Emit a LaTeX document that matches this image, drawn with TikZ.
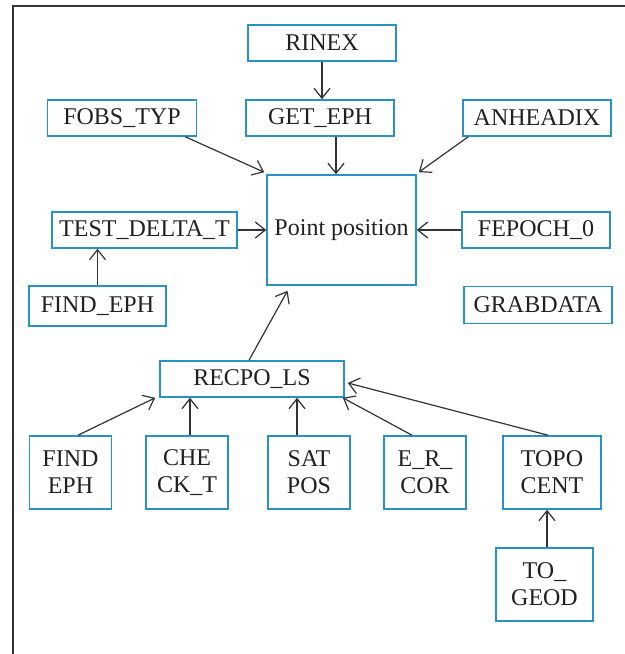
\documentclass[tikz,border=0pt]{standalone}
\usepackage{fontspec}
\setmainfont{Liberation Serif}
\usetikzlibrary{arrows.meta}

\definecolor{boxblue}{RGB}{41,146,196}
\definecolor{linegray}{RGB}{51,51,51}

\begin{document}
\begin{tikzpicture}[
		x=0.5pt,
		y=-0.5pt,
		every node/.style={font=\fontsize{12}{13.5}\selectfont, text={rgb,255:red,35;green,31;blue,32}},
		modbox/.style={draw=boxblue, line width=0.8pt, inner sep=0pt, align=center, minimum height=18pt},
		tallbox/.style={modbox, minimum width=41pt, minimum height=36.5pt},
		arr/.style={draw=linegray, line width=0.6pt, -{Straight Barb[length=5pt,width=8pt]}}
		]
		
		\useasboundingbox (0,0) rectangle (625,654);
		
		% Frame round the figure, open at the right and at the bottom.
		\draw[line width=0.8pt, linegray] (13,654) -- (13,6) -- (625,6);
		
		% Upper modules.
		\node[modbox, minimum width=74pt] (rinex) at (322,43) {RINEX};
		\node[modbox, minimum width=74.5pt] (fobs) at (122,118) {FOBS\_TYP};
		\node[modbox, minimum width=74pt] (geteph) at (320,118) {GET\_EPH};
		\node[modbox, minimum width=74pt] (anheadix) at (537,118) {ANHEADIX};
		
		% Central module.
		\node[modbox, minimum width=74.5pt, minimum height=55pt] (pp) at (341.5,230) {Point position};
		
		% Side modules.
		\node[modbox, minimum width=92.5pt] (test) at (144.5,230) {TEST\_DELTA\_T};
		\node[modbox, minimum width=74pt] (fepoch) at (536,230) {FEPOCH\_0};
		\node[modbox, minimum width=68.5pt, minimum height=20pt] (findeph) at (97.5,306) {FIND\_EPH};
		\node[modbox, minimum width=74pt, minimum height=18.5pt] (grabdata) at (538,305) {GRABDATA};
		
		% Least squares module and its inputs.
		\node[modbox, minimum width=92pt] (recpo) at (252,379) {RECPO\_LS};
		\node[tallbox] (findb) at (70.5,472.5) {FIND\\EPH};
		\node[tallbox] (check) at (187,472.5) {CHE\\CK\_T};
		\node[tallbox] (satpos) at (309,472.5) {SAT\\POS};
		\node[tallbox] (ercor) at (425,472.5) {E\_R\_\\COR};
		\node[tallbox, minimum width=49pt] (topo) at (552,472.5) {TOPO\\CENT};
		\node[tallbox, minimum width=48.5pt] (togeod) at (544.5,584.5) {TO\_\\GEOD};
		
		% Connectors.
		\draw[arr] (rinex.south) -- (rinex.south |- geteph.north);
		\draw[arr] ([xshift=8pt]geteph.south) -- ([xshift=8pt]geteph.south |- pp.north);
		\draw[arr] ([xshift=-6pt]fobs.south east) -- ([shift={(-1pt,1pt)}]pp.north west);
		\draw[arr] ([xshift=3pt]anheadix.south west) -- ([shift={(1pt,1pt)}]pp.north east);
		\draw[arr] (test.east) -- (pp.west);
		\draw[arr] (fepoch.west) -- (pp.east);
		\draw[arr] (findeph.north) -- (findeph.north |- test.south);
		\draw[arr] ([xshift=-1.5pt]recpo.north) -- ([shift={(-27pt,-2.5pt)}]pp.south);
		
		\draw[arr] ([xshift=3.75pt]findb.north) -- ([xshift=-2pt]recpo.south west);
		\draw[arr] ([xshift=1.5pt]check.north) -- ([xshift=1.5pt]check.north |- recpo.south);
		\draw[arr] ([xshift=-6pt]satpos.north) -- ([xshift=-6pt]satpos.north |- recpo.south);
		\draw[arr] ([xshift=-6.5pt]ercor.north) -- ([xshift=-1pt]recpo.south east);
		\draw[arr] ([xshift=-2pt]topo.north) -- ([shift={(1.5pt,-2pt)}]recpo.east);
		\draw[arr] ([xshift=1.25pt]togeod.north) -- ([xshift=1.25pt]togeod.north |- topo.south);
		
	\end{tikzpicture}
\end{document}
